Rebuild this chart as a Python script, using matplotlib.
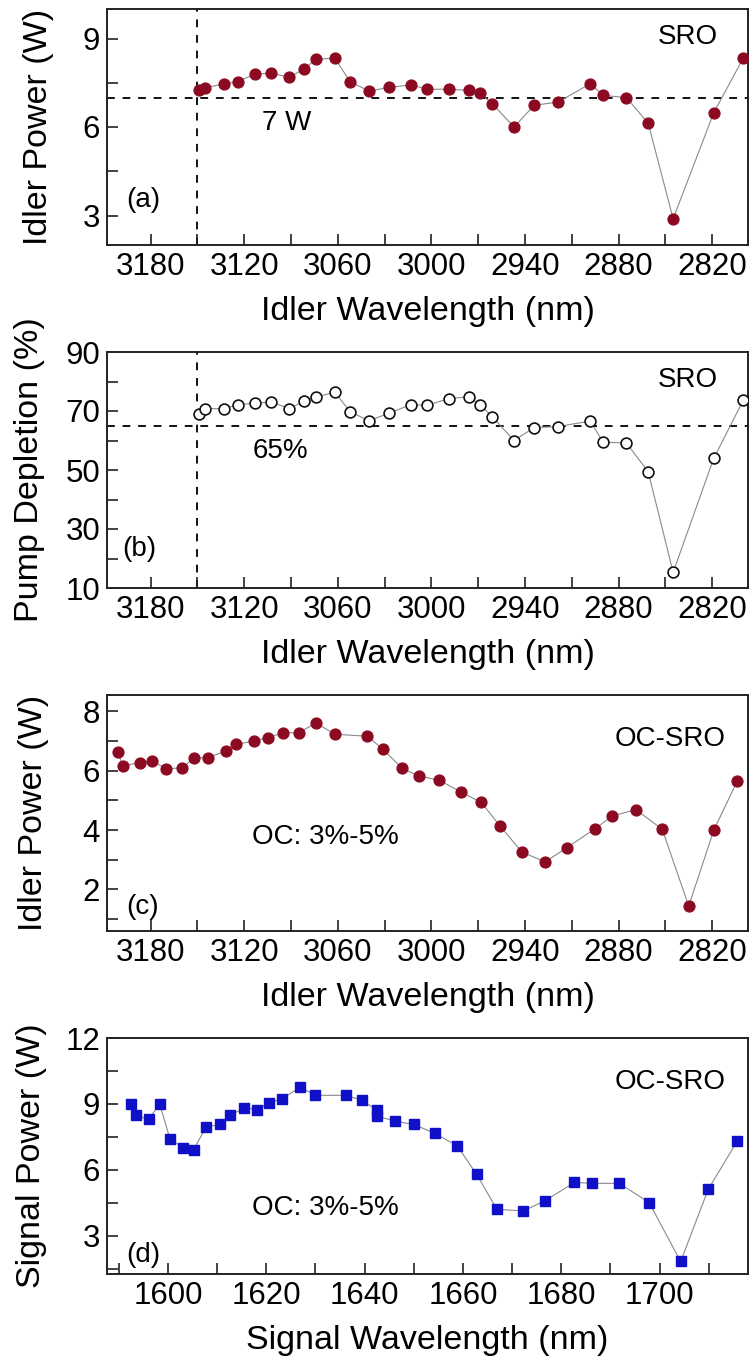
import matplotlib
matplotlib.use("Agg")
import matplotlib.pyplot as plt
from matplotlib.ticker import MultipleLocator

plt.rcParams['font.family'] = ['Liberation Sans', 'DejaVu Sans']

# ---- SRO: idler power and pump depletion vs idler wavelength ----
lam_sro = [3149, 3145, 3133, 3124, 3113, 3103, 3091, 3082, 3074, 3062, 3052, 3040,
           3027, 3013, 3003, 2989, 2976, 2969, 2961, 2947, 2934, 2919, 2898, 2890,
           2875, 2861, 2845, 2819, 2800]
idler_sro = [7.24, 7.33, 7.46, 7.54, 7.80, 7.82, 7.69, 7.96, 8.29, 8.34, 7.53, 7.22,
             7.34, 7.43, 7.28, 7.28, 7.24, 7.15, 6.79, 6.00, 6.74, 6.84, 7.47, 7.07,
             7.00, 6.13, 2.89, 6.48, 8.34]
depletion = [68.9, 70.8, 70.8, 72.2, 72.6, 73.1, 70.8, 73.3, 74.7, 76.4, 69.7, 66.7,
             69.3, 72.2, 71.9, 74.2, 74.8, 72.2, 68.1, 60.0, 64.4, 64.7, 66.6, 59.4,
             59.2, 49.4, 15.3, 53.9, 73.7]

# ---- OC-SRO: idler power vs idler wavelength ----
lam_oc = [3201, 3198, 3187, 3179, 3170, 3160, 3152, 3143, 3132, 3125, 3114, 3105,
          3095, 3085, 3074, 3062, 3041, 3031, 3019, 3008, 2995, 2981, 2968, 2956,
          2942, 2927, 2913, 2895, 2884, 2869, 2852, 2835, 2819, 2804]
idler_oc = [6.63, 6.16, 6.27, 6.32, 6.07, 6.09, 6.43, 6.44, 6.66, 6.89, 7.00, 7.11,
            7.28, 7.28, 7.61, 7.23, 7.16, 6.72, 6.09, 5.82, 5.68, 5.28, 4.93, 4.14,
            3.26, 2.93, 3.41, 4.05, 4.47, 4.69, 4.03, 1.44, 3.99, 5.64]

# ---- OC-SRO: signal power vs signal wavelength ----
lam_sig = [1592.5, 1593.4, 1596.1, 1598.3, 1600.4, 1603.0, 1605.2, 1607.8, 1610.6,
           1612.7, 1615.5, 1618.1, 1620.6, 1623.3, 1626.9, 1630.0, 1636.2, 1639.5,
           1642.5, 1642.6, 1646.2, 1650.1, 1654.3, 1658.8, 1662.8, 1666.9, 1672.3,
           1676.7, 1682.7, 1686.3, 1691.8, 1697.9, 1704.3, 1709.9, 1715.8]
signal_oc = [9.0, 8.47, 8.29, 9.0, 7.42, 7.0, 6.92, 7.95, 8.06, 8.47, 8.82, 8.74,
             9.05, 9.24, 9.76, 9.39, 9.39, 9.16, 8.71, 8.44, 8.21, 8.06, 7.65, 7.1,
             5.79, 4.2, 4.12, 4.59, 5.42, 5.38, 5.38, 4.5, 1.82, 5.1, 7.3]

idler_ticks = [3180, 3120, 3060, 3000, 2940, 2880, 2820]
signal_ticks = [1600, 1620, 1640, 1660, 1680, 1700]
depletion_ticks = [10, 30, 50, 70, 90]

ref_power = 7       # W
ref_depletion = 65  # %
ref_lambda = 3150   # nm

W, H = 752, 1365
fig = plt.figure(figsize=(W / 100, H / 100), dpi=100)

left = 107 / W
width = (748 - 107) / W
height = 236 / H
tops = [9, 352, 695, 1038]
axes = [fig.add_axes([left, 1 - (t + 236) / H, width, height]) for t in tops]

TICK_FS = 22.5
LABEL_FS = 24.5
TEXT_FS = 20
RED = '#8b0a22'
BLUE = '#1010c8'
LINE = '#8a8a8a'
DASH = (0, (4, 4))

def style(ax):
    for s in ax.spines.values():
        s.set_linewidth(1.4)
        s.set_color('#222222')
    ax.tick_params(which='both', direction='in', labelsize=TICK_FS, width=1.2,
                   color='#222222', pad=5, length=8)

def note(ax, x, y, s):
    ax.text(x, y, s, transform=ax.transAxes, fontsize=TEXT_FS, ha='center', va='center')

# (a)
ax = axes[0]
ax.plot(lam_sro, idler_sro, '-', color=LINE, lw=0.8, zorder=2)
ax.plot(lam_sro, idler_sro, 'o', color=RED, ms=7.8, mec=RED, zorder=3)
ax.axhline(ref_power, color='#111111', ls=DASH, lw=1.4, zorder=1)
ax.axvline(ref_lambda, color='#111111', ls=DASH, lw=1.4, zorder=1)
ax.set_ylim(2, 10)
ax.yaxis.set_major_locator(MultipleLocator(3))
ax.yaxis.set_minor_locator(MultipleLocator(1.5))
ax.set_ylabel('Idler Power (W)', fontsize=LABEL_FS)
note(ax, 0.906, 0.88, 'SRO')
note(ax, 0.281, 0.517, '7 W')
note(ax, 0.056, 0.19, '(a)')

# (b)
ax = axes[1]
ax.plot(lam_sro, depletion, '-', color=LINE, lw=0.8, zorder=2)
ax.plot(lam_sro, depletion, 'o', mfc='white', mec='#111111', mew=1.2, ms=7.8, zorder=3)
ax.axhline(ref_depletion, color='#111111', ls=DASH, lw=1.4, zorder=1)
ax.axvline(ref_lambda, color='#111111', ls=DASH, lw=1.4, zorder=1)
ax.set_ylim(10, 90)
ax.set_yticks(depletion_ticks)
ax.yaxis.set_minor_locator(MultipleLocator(10))
ax.set_ylabel('Pump Depletion (%)', fontsize=LABEL_FS)
note(ax, 0.906, 0.88, 'SRO')
note(ax, 0.27, 0.58, '65%')
note(ax, 0.051, 0.165, '(b)')

# (c)
ax = axes[2]
ax.plot(lam_oc, idler_oc, '-', color=LINE, lw=0.8, zorder=2)
ax.plot(lam_oc, idler_oc, 'o', color=RED, ms=7.8, mec=RED, zorder=3)
ax.set_ylim(0.6, 8.55)
ax.yaxis.set_major_locator(MultipleLocator(2))
ax.yaxis.set_minor_locator(MultipleLocator(1))
ax.set_ylabel('Idler Power (W)', fontsize=LABEL_FS)
note(ax, 0.878, 0.814, 'OC-SRO')
note(ax, 0.34, 0.398, 'OC: 3%-5%')
note(ax, 0.056, 0.10, '(c)')

for ax in axes[:3]:
    ax.set_xlim(3208, 2797)
    ax.set_xticks(idler_ticks)
    ax.xaxis.set_minor_locator(MultipleLocator(30))
    ax.set_xlabel('Idler Wavelength (nm)', fontsize=LABEL_FS)

# (d)
ax = axes[3]
ax.plot(lam_sig, signal_oc, '-', color=LINE, lw=0.8, zorder=2)
ax.plot(lam_sig, signal_oc, 's', color=BLUE, mec=BLUE, ms=7.2, zorder=3)
ax.set_xlim(1587.6, 1718)
ax.set_xticks(signal_ticks)
ax.xaxis.set_minor_locator(MultipleLocator(10))
ax.set_ylim(1.25, 12)
ax.yaxis.set_major_locator(MultipleLocator(3))
ax.yaxis.set_minor_locator(MultipleLocator(1.5))
ax.set_xlabel('Signal Wavelength (nm)', fontsize=LABEL_FS)
ax.set_ylabel('Signal Power (W)', fontsize=LABEL_FS)
note(ax, 0.878, 0.814, 'OC-SRO')
note(ax, 0.34, 0.28, 'OC: 3%-5%')
note(ax, 0.056, 0.08, '(d)')

ylabel_x = [-0.083, -0.097, -0.09, -0.094]
for ax, lx in zip(axes, ylabel_x):
    style(ax)
    ax.xaxis.labelpad = 10
    ax.yaxis.set_label_coords(lx, 0.5)

fig.savefig('out.png', dpi=100)
